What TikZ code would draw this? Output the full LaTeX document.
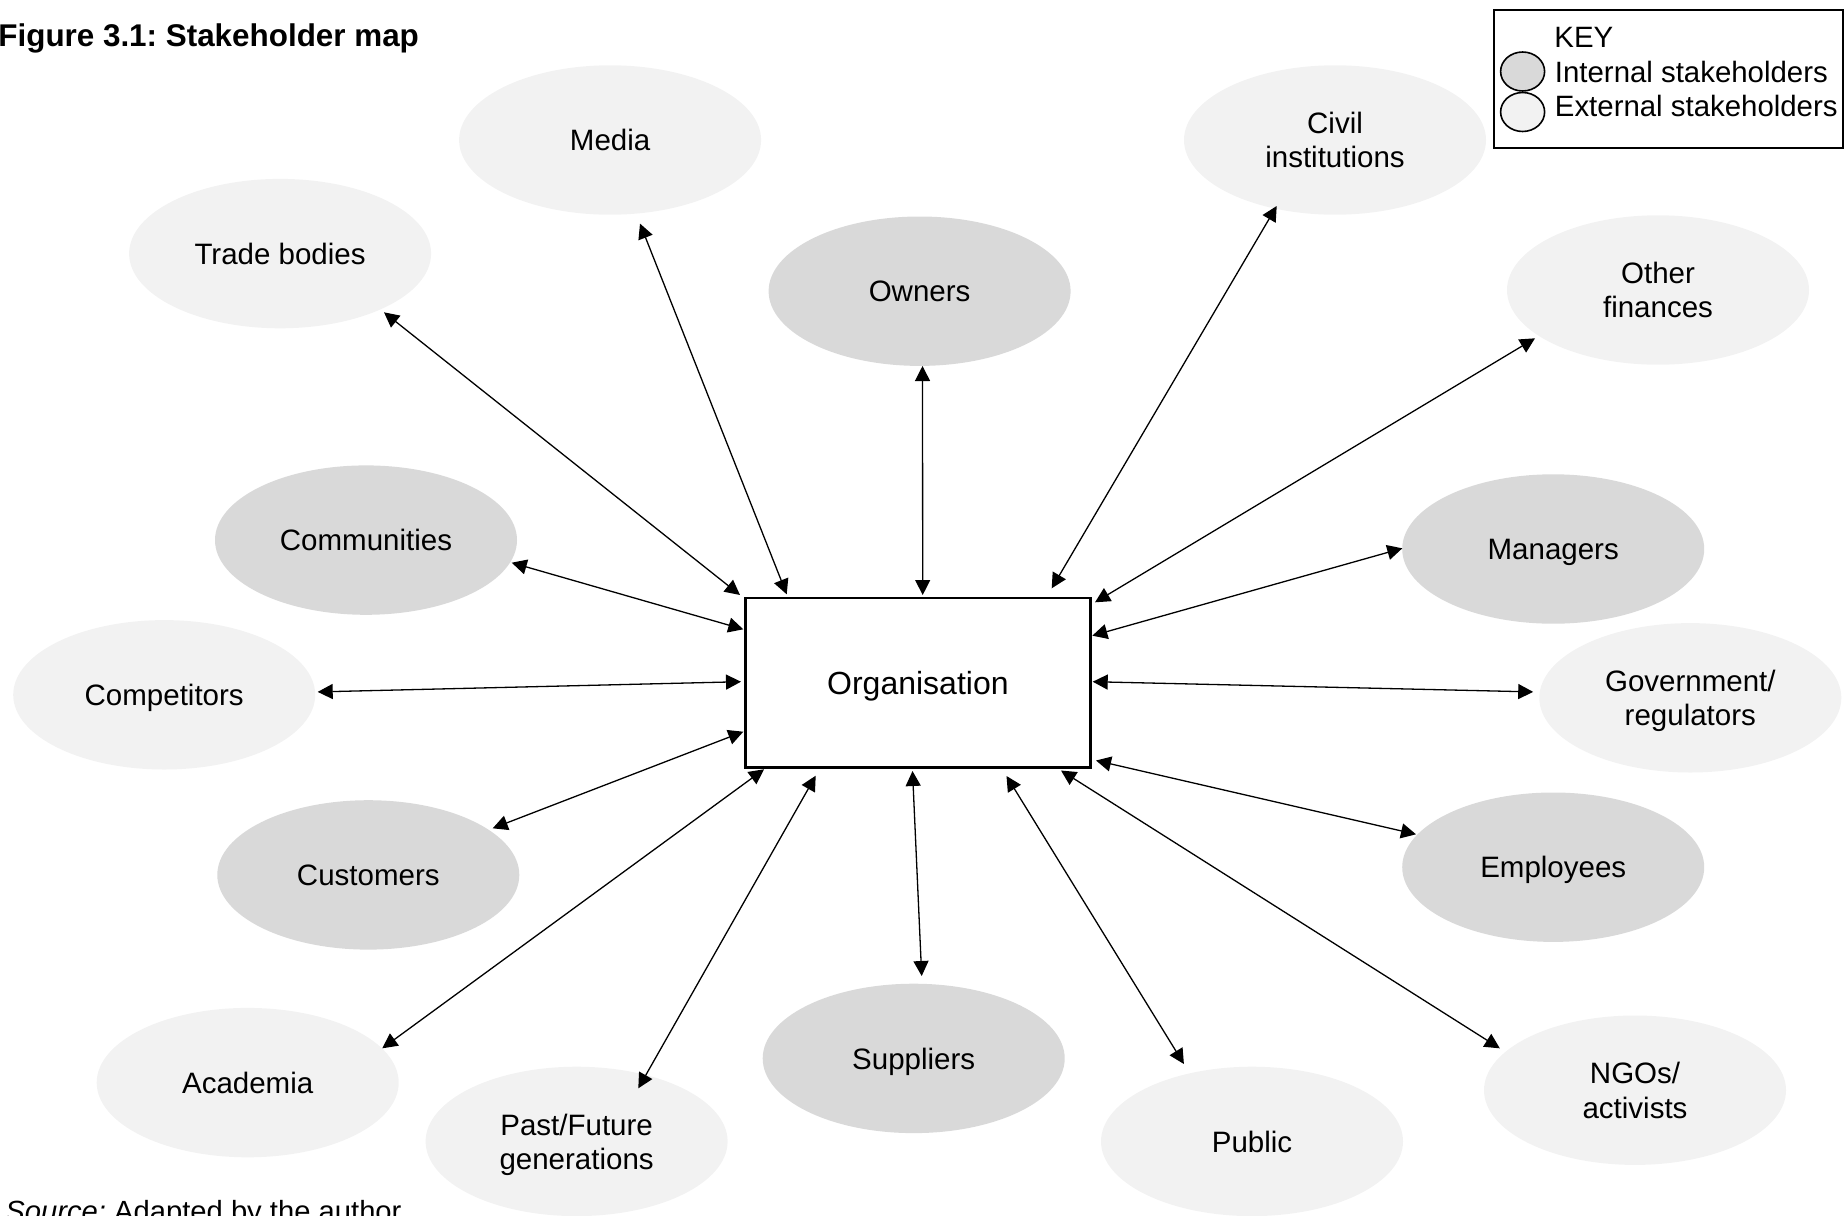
\documentclass[tikz,border=0pt]{standalone}
\usepackage{fontspec}
\setmainfont{Liberation Sans}
\usetikzlibrary{shapes.geometric,arrows.meta}
\definecolor{intfill}{HTML}{D9D9D9}
\definecolor{extfill}{HTML}{F2F2F2}
\frenchspacing

\begin{document}
\begin{tikzpicture}[x=0.5pt,y=-0.5pt,
  party/.style={ellipse, minimum width=151pt, minimum height=74.7pt,
    inner sep=0pt, align=center, text depth=0pt,
    font=\fontsize{14.75}{17.1}\selectfont},
  internal/.style={party, fill=intfill},
  external/.style={party, fill=extfill},
  hub/.style={draw, line width=1.3pt, fill=white, minimum width=172.5pt,
    minimum height=84.7pt, inner sep=0pt, text depth=0pt,
    font=\fontsize{16}{19}\selectfont},
  link/.style={line width=0.65pt,
    {Triangle[length=7.5pt,width=7.5pt]}-{Triangle[length=7.5pt,width=7.5pt]}},
  keyicon/.style={ellipse, draw, line width=0.8pt, minimum width=22pt,
    minimum height=19.5pt, inner sep=0pt},
  keytext/.style={anchor=west, inner sep=0pt, font=\fontsize{14.7}{17}\selectfont},
]
\useasboundingbox (0,0) rectangle (1845,1215);

% title and source line
\node[anchor=base west, inner sep=0pt, font=\bfseries\fontsize{15.7}{18}\selectfont]
  (title) at (-2,46.5) {Figure 3.1: Stakeholder map};
\node[anchor=base west, inner sep=0pt, font=\fontsize{14.6}{17}\selectfont]
  (source) at (5,1221) {\textit{Source:} Adapted by the author};

% stakeholder groups
\node[external] (media)       at (610.1,140.0)  {Media};
\node[external] (trade)       at (280.1,253.6)  {Trade bodies};
\node[internal] (owners)      at (919.6,291.2)  {Owners};
\node[external] (civil)       at (1335.0,140.0) {Civil\\institutions};
\node[external] (finances)    at (1658.0,290.0) {Other\\finances};
\node[internal] (communities) at (366.0,540.1)  {Communities};
\node[internal] (managers)    at (1553.2,549.0) {Managers};
\node[external] (competitors) at (164.2,694.8)  {Competitors};
\node[external] (government)  at (1690.3,697.8) {Government/\\regulators};
\node[internal] (customers)   at (368.3,874.9)  {Customers};
\node[internal] (employees)   at (1553.2,867.2) {Employees};
\node[external] (academia)    at (247.7,1082.6) {Academia};
\node[external] (generations) at (576.6,1141.4) {Past/Future\\generations};
\node[internal] (suppliers)   at (913.7,1058.4) {Suppliers};
\node[external] (public)      at (1252.0,1141.4) {Public};
\node[external] (ngos)        at (1635.0,1090.2) {NGOs/\\activists};

% the organisation in the middle
\node[hub] (org) at (917.9,682.7) {Organisation};

% arrow ends next to the organisation box
\coordinate (o-trade)       at (740.0,595.0);
\coordinate (o-media)       at (786.7,594.3);
\coordinate (o-owners)      at (922.7,595.0);
\coordinate (o-civil)       at (1051.7,588.3);
\coordinate (o-finances)    at (1095.0,602.3);
\coordinate (o-communities) at (743.3,629.3);
\coordinate (o-managers)    at (1092.3,635.7);
\coordinate (o-competitors) at (741.0,681.7);
\coordinate (o-government)  at (1092.7,681.7);
\coordinate (o-customers)   at (743.3,731.7);
\coordinate (o-employees)   at (1096.0,760.5);
\coordinate (o-academia)    at (764.0,769.3);
\coordinate (o-generations) at (815.7,775.7);
\coordinate (o-suppliers)   at (912.5,771.0);
\coordinate (o-public)      at (1006.5,776.0);
\coordinate (o-ngos)        at (1061.0,770.5);

% arrow ends next to each stakeholder
\coordinate (s-trade)       at (384.0,312.3);
\coordinate (s-media)       at (640.0,223.6);
\coordinate (s-owners)      at (922.5,366.0);
\coordinate (s-civil)       at (1276.7,206.0);
\coordinate (s-finances)    at (1535.0,338.3);
\coordinate (s-communities) at (511.7,562.7);
\coordinate (s-managers)    at (1402.3,548.3);
\coordinate (s-competitors) at (317.7,691.9);
\coordinate (s-government)  at (1533.2,691.9);
\coordinate (s-customers)   at (492.7,828.3);
\coordinate (s-employees)   at (1416.0,834.3);
\coordinate (s-academia)    at (382.3,1048.3);
\coordinate (s-generations) at (638.3,1088.3);
\coordinate (s-suppliers)   at (921.7,976.0);
\coordinate (s-public)      at (1183.9,1064.0);
\coordinate (s-ngos)        at (1499.8,1048.3);

% two-way relationships
\foreach \s in {trade,media,owners,civil,finances,communities,managers,
  competitors,government,customers,employees,academia,generations,
  suppliers,public,ngos}
  \draw[link] (s-\s) -- (o-\s);

% key
\node[draw, line width=1pt, anchor=north west, minimum width=174.3pt,
  minimum height=69pt, inner sep=0pt] (key) at (1493.3,9) {};
\node[keytext] (keytitle) at (1554,37.6) {KEY};
\node[keyicon, fill=intfill] (keyint) at (1522.6,71.5) {};
\node[keytext] (keyinttext) at (1554.5,71.8) {Internal stakeholders};
\node[keyicon, fill=extfill] (keyext) at (1522.6,112) {};
\node[keytext] (keyexttext) at (1554.5,106) {External stakeholders};
\end{tikzpicture}
\end{document}
